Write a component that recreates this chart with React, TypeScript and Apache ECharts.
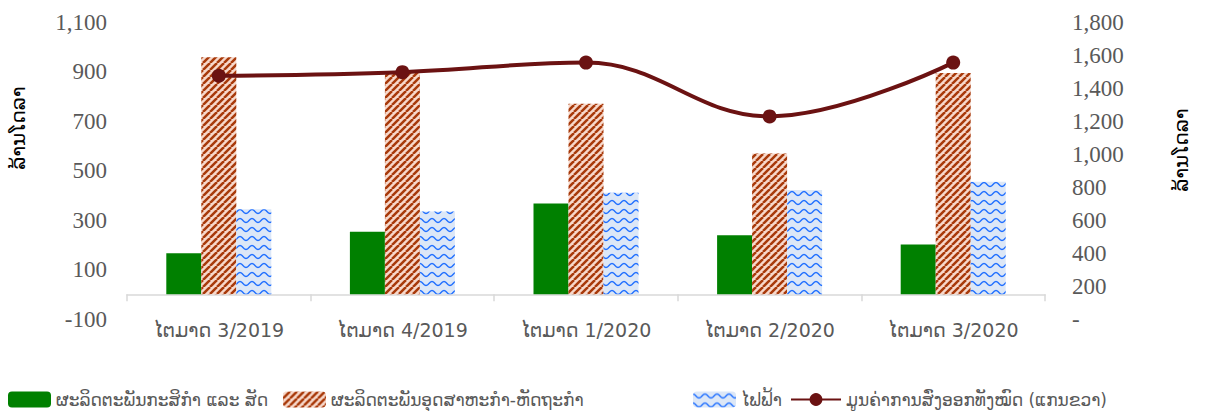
import React, { useEffect, useRef } from "react";
import * as echarts from "echarts";

const categories = ["ໄຕມາດ 3/2019", "ໄຕມາດ 4/2019", "ໄຕມາດ 1/2020", "ໄຕມາດ 2/2020", "ໄຕມາດ 3/2020"];
const agriculture = [166, 253, 367, 238, 201];
const industry = [958, 894, 770, 569, 894];
const electricity = [343, 334, 410, 421, 455];
const totalExports = [1474, 1496, 1554, 1228, 1554];
const seriesNames = [
  "ຜະລິດຕະພັນກະສິກຳ ແລະ ສັດ",
  "ຜະລິດຕະພັນອຸດສາຫະກຳ-ຫັດຖະກຳ",
  "ໄຟຟ້າ",
  "ມູນຄ່າການສົ່ງອອກທັງໝົດ (ແກນຂວາ)",
];
const axisTitle = "ລ້ານໂດລາ";
const leftAxis = { min: -100, max: 1100, interval: 200 };
const rightAxis = { min: 0, max: 1800, interval: 200 };

function stripePattern() {
  const c = document.createElement("canvas");
  const s = 7;
  c.width = s;
  c.height = s;
  const ctx = c.getContext("2d")!;
  ctx.fillStyle = "#F7D8CB";
  ctx.fillRect(0, 0, s, s);
  ctx.strokeStyle = "#A8390A";
  ctx.lineWidth = 2.5;
  for (const off of [-s, 0, s]) {
    ctx.beginPath();
    ctx.moveTo(off, s);
    ctx.lineTo(off + s, 0);
    ctx.stroke();
  }
  return c;
}

function wavePattern() {
  const c = document.createElement("canvas");
  const w = 12;
  const h = 9;
  c.width = w;
  c.height = h;
  const ctx = c.getContext("2d")!;
  ctx.fillStyle = "#DCE7F7";
  ctx.fillRect(0, 0, w, h);
  ctx.strokeStyle = "#1E6EFF";
  ctx.lineWidth = 1.4;
  ctx.beginPath();
  for (let x = 0; x <= w; x += 0.5) {
    const y = 4.5 - 2 * Math.cos((x / w) * Math.PI * 2);
    if (x === 0) ctx.moveTo(x, y);
    else ctx.lineTo(x, y);
  }
  ctx.stroke();
  return c;
}

const fmt = (v: number) => v.toLocaleString("en-US");

export default function App() {
  const ref = useRef<HTMLDivElement>(null);
  useEffect(() => {
    document.body.style.margin = "0";
    if (!ref.current) return;
    const chart = echarts.init(ref.current, undefined, { renderer: "svg" });
    const stripes = { image: stripePattern(), repeat: "repeat" };
    const waves = { image: wavePattern(), repeat: "repeat" };
    const numFont = { fontFamily: "'Liberation Serif', serif", fontSize: 23, color: "#595959" };
    const laoFont = "'DejaVu Sans', sans-serif";
    const legendLefts = [8, 283, 693, 790];
    const legendWidths = [43, 43, 43, 50];
    chart.setOption({
      animation: false,
      grid: { left: 127, right: 166, top: 22, bottom: 92, containLabel: false },
      legend: seriesNames.map((name, i) => ({
        left: legendLefts[i],
        top: 391,
        padding: 0,
        itemWidth: legendWidths[i],
        itemHeight: 16,
        textStyle: { fontFamily: laoFont, fontSize: 17, color: "#595959" },
        data: [name],
      })),
      graphic: [
        {
          type: "text",
          x: 18,
          y: 128,
          rotation: Math.PI / 2,
          style: { text: axisTitle, fontFamily: laoFont, fontSize: 20, fill: "#000", textAlign: "center", textVerticalAlign: "middle" },
        },
        {
          type: "text",
          x: 1181,
          y: 150,
          rotation: Math.PI / 2,
          style: { text: axisTitle, fontFamily: laoFont, fontSize: 20, fill: "#000", textAlign: "center", textVerticalAlign: "middle" },
        },
      ],
      xAxis: {
        type: "category",
        data: categories,
        axisLine: { onZero: true, lineStyle: { color: "#D9D9D9", width: 1.5 } },
        axisTick: { show: true, length: 7, lineStyle: { color: "#D9D9D9", width: 1.5 } },
        axisLabel: { margin: 1, fontFamily: laoFont, fontSize: 19, color: "#595959" },
      },
      yAxis: [
        {
          type: "value",
          min: leftAxis.min,
          max: leftAxis.max,
          interval: leftAxis.interval,
          splitLine: { show: false },
          axisLine: { show: false },
          axisTick: { show: false },
          axisLabel: { ...numFont, margin: 20, formatter: (v: number) => fmt(v) },
        },
        {
          type: "value",
          min: rightAxis.min,
          max: rightAxis.max,
          interval: rightAxis.interval,
          splitLine: { show: false },
          axisLine: { show: false },
          axisTick: { show: false },
          axisLabel: { ...numFont, margin: 27, formatter: (v: number) => (v === 0 ? "-" : fmt(v)) },
        },
      ],
      series: [
        { name: seriesNames[0], type: "bar", data: agriculture, barWidth: 35, barGap: "0%", itemStyle: { color: "#008000" } },
        { name: seriesNames[1], type: "bar", data: industry, barWidth: 35, barGap: "0%", itemStyle: { color: stripes } },
        { name: seriesNames[2], type: "bar", data: electricity, barWidth: 35, barGap: "0%", itemStyle: { color: waves } },
        {
          name: seriesNames[3],
          type: "line",
          yAxisIndex: 1,
          data: totalExports,
          smooth: 0.4,
          symbol: "circle",
          symbolSize: 14,
          lineStyle: { color: "#6B1212", width: 4 },
          itemStyle: { color: "#6B1212" },
          z: 5,
        },
      ],
    });
    return () => chart.dispose();
  }, []);
  return <div ref={ref} style={{ width: 1211, height: 411 }} />;
}
